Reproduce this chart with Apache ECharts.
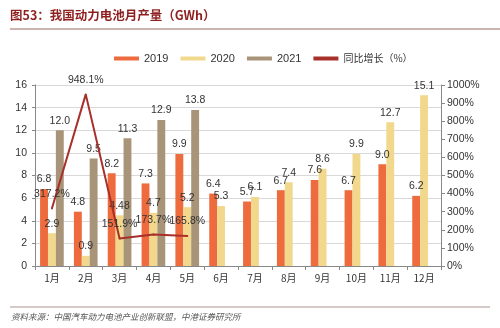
<!DOCTYPE html>
<html>
<head>
<meta charset="utf-8">
<script src="https://cdn.jsdelivr.net/npm/echarts@6/dist/echarts.min.js"></script>
<style>
  html, body { margin: 0; padding: 0; background: #fff; }
  #chart { width: 500px; height: 328px; }
</style>
</head>
<body>
<div id="chart"></div>
<script>
// Monthly power-battery output (GWh) and 2021 year-on-year growth
const months = ['1月', '2月', '3月', '4月', '5月', '6月', '7月', '8月', '9月', '10月', '11月', '12月'];
const output2019 = [6.8, 4.8, 8.2, 7.3, 9.9, 6.4, 5.7, 6.7, 7.6, 6.7, 9.0, 6.2];
const output2020 = [2.9, 0.9, 4.48, 4.7, 5.2, 5.3, 6.1, 7.4, 8.6, 9.9, 12.7, 15.1];
const output2021 = [12.0, 9.5, 11.3, 12.9, 13.8, null, null, null, null, null, null, null];
const growthPct = [317.2, 948.1, 151.9, 173.7, 165.8, null, null, null, null, null, null, null];
const leftTicks = { min: 0, max: 16, step: 2 };
const rightTicks = { min: 0, max: 1000, step: 100 };

const chart = echarts.init(document.getElementById('chart'), null, { renderer: 'canvas' });

const FONT = 'Liberation Sans, Arial, sans-serif';
const CJK = '"Noto Sans CJK SC", sans-serif';
const LINE_COLOR = '#A8302A';
const labelStyle = { fontFamily: FONT, fontSize: 10.5, color: '#333' };

function fmt1(v) { return v == null ? '' : v.toFixed(1); }

function barSeries(name, data, color, fmt) {
  return {
    name: name,
    type: 'bar',
    data: data,
    yAxisIndex: 0,
    barGap: '0%',
    barCategoryGap: '30%',
    itemStyle: { color: color },
    label: Object.assign({
      show: true,
      position: 'top',
      distance: 4,
      formatter: p => (p.value == null ? '' : fmt(p.value))
    }, labelStyle)
  };
}

const option = {
  animation: false,
  backgroundColor: '#fff',
  grid: { left: 35, right: 59, top: 85, bottom: 62, containLabel: false },
  legend: {
    top: 48,
    left: 109,
    itemWidth: 25,
    itemHeight: 4,
    itemGap: 12,
    textStyle: { fontFamily: FONT, fontSize: 11, color: '#333' },
    data: [
      { name: '2019', icon: 'rect' },
      { name: '2020', icon: 'rect' },
      { name: '2021', icon: 'rect' },
      { name: '同比增长（%）', icon: 'rect',
        textStyle: { fontFamily: CJK, fontSize: 10, color: '#333' } }
    ]
  },
  xAxis: {
    type: 'category',
    data: months,
    axisLine: { lineStyle: { color: '#888', width: 1 } },
    axisTick: { show: true, alignWithLabel: false, length: 4, lineStyle: { color: '#888' } },
    axisLabel: { fontFamily: CJK, fontSize: 10, color: '#333', margin: 7 }
  },
  yAxis: [
    {
      type: 'value',
      min: leftTicks.min, max: leftTicks.max, interval: leftTicks.step,
      axisLine: { show: true, lineStyle: { color: '#888' } },
      axisTick: { show: true, length: 3, lineStyle: { color: '#888' } },
      axisLabel: { fontFamily: FONT, fontSize: 10.5, color: '#333', margin: 8 },
      splitLine: { show: true, lineStyle: { color: '#d9d9d9', width: 1 } }
    },
    {
      type: 'value',
      min: rightTicks.min, max: rightTicks.max, interval: rightTicks.step,
      position: 'right',
      axisLine: { show: true, lineStyle: { color: '#888' } },
      axisTick: { show: true, length: 4, lineStyle: { color: '#888' } },
      axisLabel: { fontFamily: FONT, fontSize: 10.5, color: '#333', margin: 6, formatter: v => v + '%' },
      splitLine: { show: false }
    }
  ],
  series: [
    barSeries('2019', output2019, '#EE6B3E', fmt1),
    barSeries('2020', output2020, '#F1D88C', v => (v === 4.48 ? '4.48' : fmt1(v))),
    barSeries('2021', output2021, '#A89478', fmt1),
    {
      name: '同比增长（%）',
      type: 'line',
      yAxisIndex: 1,
      data: growthPct,
      symbol: 'circle',
      symbolSize: 2,
      showSymbol: true,
      lineStyle: { color: LINE_COLOR, width: 2 },
      itemStyle: { color: LINE_COLOR },
      z: 5,
      label: Object.assign({
        show: true,
        position: 'top',
        distance: 8,
        formatter: p => (p.value == null ? '' : p.value.toFixed(1) + '%')
      }, labelStyle)
    }
  ],
  graphic: [
    {
      type: 'text', left: 10, top: 9,
      style: {
        text: '图53：我国动力电池月产量（GWh）',
        font: 'bold 12.5px "Noto Sans CJK SC", sans-serif',
        fill: '#8E1F1F'
      }
    },
    {
      type: 'line',
      shape: { x1: 10, y1: 29, x2: 500, y2: 29 },
      style: { stroke: '#9A6A5E', lineWidth: 1 }
    },
    {
      type: 'line',
      shape: { x1: 10, y1: 307, x2: 490, y2: 307 },
      style: { stroke: '#A8958E', lineWidth: 1 }
    },
    {
      type: 'text', left: 11, top: 313,
      style: {
        text: '资料来源：中国汽车动力电池产业创新联盟，中港证券研究所',
        font: 'italic 8.5px "Noto Sans CJK SC", sans-serif',
        fill: '#555'
      }
    }
  ]
};

chart.setOption(option);
</script>
</body>
</html>
